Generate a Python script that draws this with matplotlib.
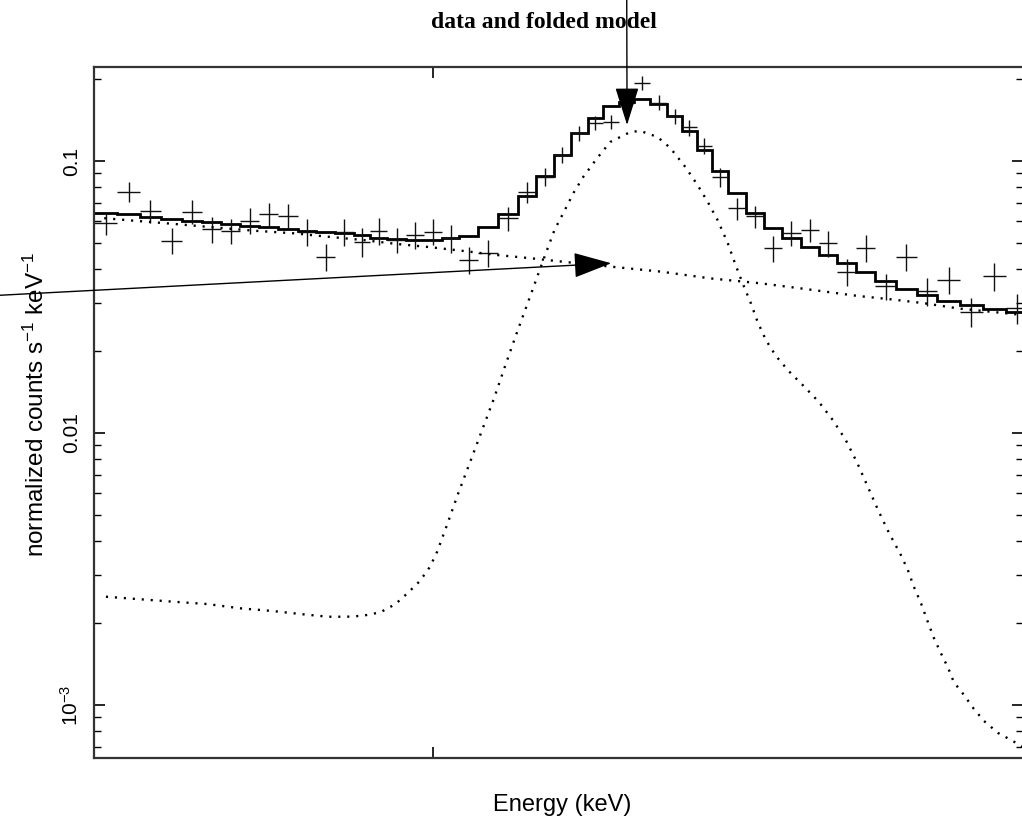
import numpy as np
import matplotlib
matplotlib.use("Agg")
import matplotlib.pyplot as plt
from matplotlib.ticker import FixedLocator, NullFormatter, NullLocator, LogLocator

plt.rcParams['font.family'] = ['Liberation Sans', 'DejaVu Sans']
plt.rcParams['mathtext.fontset'] = 'custom'
plt.rcParams['mathtext.rm'] = 'Liberation Sans'
plt.rcParams['mathtext.it'] = 'Liberation Sans:italic'

# spectral bins (keV)
edges = [5.370, 5.411, 5.451, 5.489, 5.527, 5.564, 5.598, 5.633, 5.668, 5.704,
         5.741, 5.775, 5.811, 5.846, 5.877, 5.911, 5.947, 5.982, 6.017, 6.052,
         6.089, 6.128, 6.168, 6.205, 6.241, 6.276, 6.311, 6.343, 6.376, 6.408,
         6.442, 6.477, 6.509, 6.540, 6.574, 6.608, 6.646, 6.686, 6.725, 6.767,
         6.808, 6.848, 6.890, 6.934, 6.981, 7.028, 7.076, 7.128, 7.182, 7.236,
         7.289]

# data (normalized counts s^-1 keV^-1)
rate = [0.0590, 0.0771, 0.0655, 0.0509, 0.0651, 0.0561, 0.0553, 0.0603, 0.0637, 0.0629,
        0.0550, 0.0445, 0.0550, 0.0505, 0.0554, 0.0513, 0.0535, 0.0550, 0.0520, 0.0433,
        0.0458, 0.0616, 0.0767, 0.0876, 0.1052, 0.1264, 0.1376, 0.1395, 0.1630, 0.1931,
        0.1638, 0.1463, 0.1330, 0.1135, 0.0870, 0.0670, 0.0626, 0.0478, 0.0545, 0.0558,
        0.0498, 0.0392, 0.0480, 0.0346, 0.0445, 0.0333, 0.0366, 0.0279, 0.0377, 0.0287]
rate_err = [0.0055, 0.0067, 0.0066, 0.0056, 0.0065, 0.0063, 0.0059, 0.0066, 0.0064, 0.0067,
            0.0063, 0.0052, 0.0064, 0.0062, 0.0064, 0.0056, 0.0059, 0.0061, 0.0061, 0.0050,
            0.0052, 0.0063, 0.0069, 0.0067, 0.0072, 0.0081, 0.0081, 0.0082, 0.0096, 0.0114,
            0.0104, 0.0093, 0.0090, 0.0077, 0.0070, 0.0062, 0.0058, 0.0053, 0.0058, 0.0056,
            0.0055, 0.0045, 0.0054, 0.0039, 0.0052, 0.0039, 0.0043, 0.0034, 0.0044, 0.0036]

# folded total model per bin
model = [0.0646, 0.0637, 0.0624, 0.0612, 0.0603, 0.0595, 0.0587, 0.0578, 0.0571, 0.0562,
         0.0554, 0.0550, 0.0544, 0.0535, 0.0522, 0.0515, 0.0513, 0.0513, 0.0520, 0.0531,
         0.0571, 0.0637, 0.0744, 0.0881, 0.1052, 0.1264, 0.1443, 0.1593, 0.1644, 0.1686,
         0.1616, 0.1463, 0.1289, 0.1098, 0.0919, 0.0765, 0.0642, 0.0566, 0.0520, 0.0482,
         0.0451, 0.0423, 0.0392, 0.0363, 0.0338, 0.0322, 0.0306, 0.0296, 0.0286, 0.0279]

# continuum component
cont_e = [5.388, 5.441, 5.512, 5.585, 5.659, 5.733, 5.795, 5.864, 5.930, 5.994,
          6.059, 6.127, 6.194, 6.261, 6.358, 6.463, 6.570, 6.678, 6.767, 6.894,
          6.969, 7.045, 7.124, 7.201, 7.272]
cont_y = [0.0616, 0.0603, 0.0587, 0.0570, 0.0554, 0.0542, 0.0527, 0.0512, 0.0495, 0.0482,
          0.0467, 0.0451, 0.0439, 0.0426, 0.0409, 0.0392, 0.0370, 0.0355, 0.0340, 0.0319,
          0.0310, 0.0300, 0.0287, 0.0279, 0.0272]

# line component
line_e = [5.391, 5.452, 5.510, 5.572, 5.633, 5.693, 5.750, 5.797, 5.833, 5.864,
          5.897, 5.926, 5.951, 5.974, 5.994, 6.008, 6.028, 6.049, 6.073, 6.097,
          6.121, 6.143, 6.165, 6.196, 6.218, 6.243, 6.259, 6.282, 6.302, 6.331,
          6.358, 6.400, 6.421, 6.457, 6.484, 6.516, 6.542, 6.564, 6.585, 6.607,
          6.624, 6.639, 6.657, 6.672, 6.690, 6.712, 6.740, 6.773, 6.807, 6.838,
          6.867, 6.892, 6.915, 6.940, 6.965, 6.992, 7.008, 7.022, 7.038, 7.054,
          7.068, 7.084, 7.101, 7.114, 7.138, 7.161, 7.185, 7.218, 7.253, 7.277]
line_y = [0.002501, 0.002447, 0.002398, 0.002351, 0.002267, 0.002216, 0.002155, 0.002111, 0.002111, 0.002129,
          0.002191, 0.002345, 0.002587, 0.002856, 0.003225, 0.003662, 0.004628, 0.005967, 0.007820, 0.010257,
          0.013450, 0.017632, 0.022926, 0.032715, 0.042170, 0.055757, 0.063314, 0.076282, 0.087354, 0.10257,
          0.11747, 0.12782, 0.12891, 0.12253, 0.11164, 0.09504, 0.08161, 0.07068, 0.06067, 0.04994,
          0.04145, 0.03560, 0.03005, 0.02559, 0.02197, 0.01919, 0.01690, 0.01489, 0.01300, 0.01116,
          0.009425, 0.007820, 0.006439, 0.005211, 0.004289, 0.003559, 0.003135, 0.002715, 0.002371, 0.002019,
          0.001763, 0.001553, 0.001368, 0.001215, 0.001088, 0.000967, 0.000873, 0.000789, 0.000737, 0.000701]

edges = np.array(edges)
centers = np.sqrt(edges[:-1] * edges[1:])
xerr = [centers - edges[:-1], edges[1:] - centers]

fig = plt.figure(figsize=(10.22, 8.18), dpi=100)
ax = fig.add_axes([94 / 1022, 1 - 758 / 818, 929 / 1022, 691 / 818])

ax.errorbar(centers, rate, xerr=xerr, yerr=rate_err, fmt='none',
            ecolor='#111111', elinewidth=1.0, capsize=0)
ax.stairs(model, edges, baseline=None, color='black', lw=2.0)
ax.plot(cont_e, cont_y, color='black', lw=1.7, ls=(0, (0.9, 2.9)))
ax.plot(line_e, line_y, color='black', lw=1.7, ls=(0, (0.9, 2.9)))

ax.set_xscale('log')
ax.set_yscale('log')
ax.set_xlim(5.370, 7.277)
ax.set_ylim(6.385e-4, 0.2215)

ax.xaxis.set_major_locator(FixedLocator([6.0]))
ax.xaxis.set_minor_locator(NullLocator())
ax.xaxis.set_major_formatter(NullFormatter())
ax.yaxis.set_major_locator(FixedLocator([1e-3, 1e-2, 1e-1]))
ax.yaxis.set_minor_locator(LogLocator(base=10, subs=np.arange(2, 10)))
ax.yaxis.set_minor_formatter(NullFormatter())
ax.set_yticklabels(['10$^{-3}$', '0.01', '0.1'])

ax.tick_params(which='both', direction='in', top=True, right=True, color='black')
ax.tick_params(which='major', length=8, width=1.2)
ax.tick_params(which='minor', length=5, width=1.0)
ax.tick_params(axis='y', which='major', pad=9, labelsize=15)
for lab in ax.get_yticklabels():
    lab.set_rotation(90)
    lab.set_va('center')
for sp in ax.spines.values():
    sp.set_linewidth(1.6)
    sp.set_color('#333333')

# arrows
ax.annotate('', xy=(6.393, 0.1356), xytext=(626.7 / 1022, 1.02),
            textcoords='figure fraction', annotation_clip=False,
            arrowprops=dict(arrowstyle='-|>,head_length=2.4,head_width=0.75',
                            mutation_scale=10, color='black', lw=1.0,
                            shrinkA=0, shrinkB=0))
ax.annotate('', xy=(6.360, 0.04206), xytext=(-0.01, 0.6384),
            textcoords='figure fraction', annotation_clip=False,
            arrowprops=dict(arrowstyle='-|>,head_length=2.4,head_width=0.8',
                            mutation_scale=10, color='black', lw=1.0,
                            shrinkA=0, shrinkB=0))

fig.text(0.532, 0.973, 'data and folded model', ha='center', va='center',
         family='Liberation Serif', weight='bold', fontsize=17)
fig.text(0.550, 0.016, 'Energy (keV)', ha='center', va='center', fontsize=17)
fig.text(0.036, 0.505, 'normalized counts s$^{-1}$ keV$^{-1}$', ha='center', va='center',
         rotation=90, fontsize=17.5)

fig.savefig('out.png', dpi=100)
